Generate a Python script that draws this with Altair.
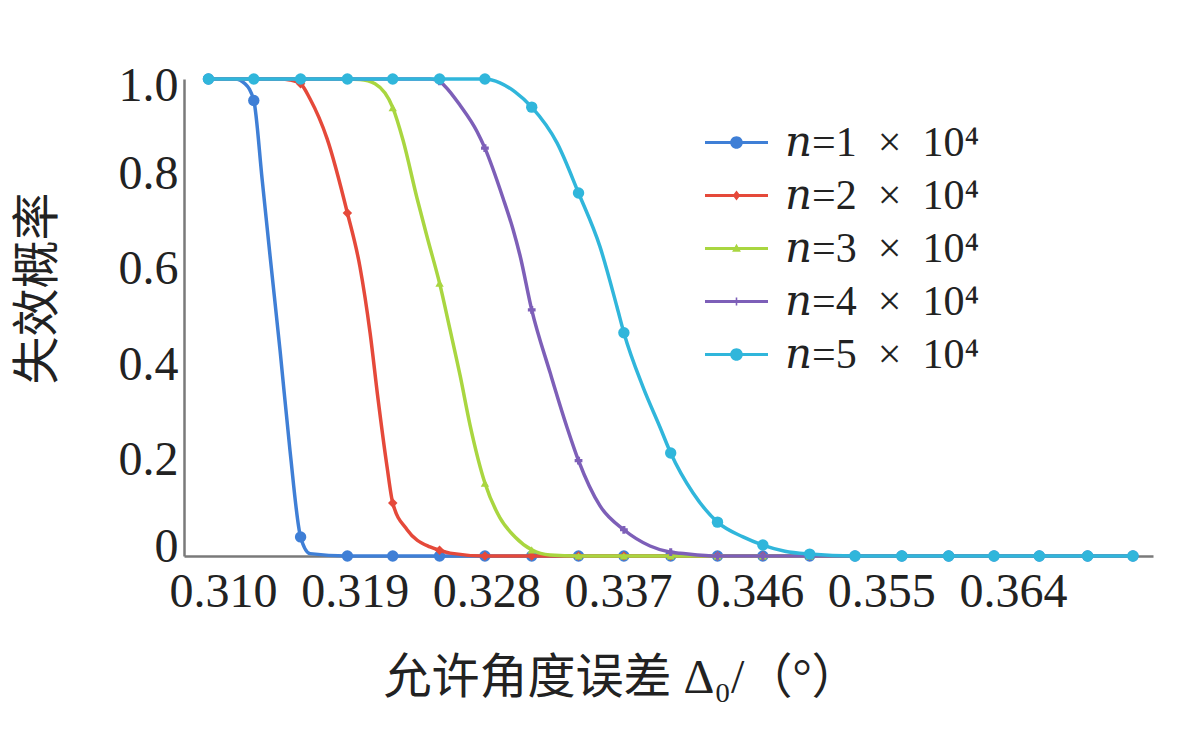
import altair as alt
import pandas as pd

# ---------------- data ----------------
series = ["𝑛=1\u2002×\u200210⁴", "𝑛=2\u2002×\u200210⁴", "𝑛=3\u2002×\u200210⁴",
          "𝑛=4\u2002×\u200210⁴", "𝑛=5\u2002×\u200210⁴"]
colors = ["#3f7fd6", "#e5493a", "#a9d640", "#7d5fb8", "#30b6db"]

x_ticks = [0.310, 0.319, 0.328, 0.337, 0.346, 0.355, 0.364]
y_ticks = [0.0, 0.2, 0.4, 0.6, 0.8, 1.0]

# marker positions (shared by all five curves)
marker_x = [0.3090, 0.3121, 0.3153, 0.3185, 0.3216, 0.3248, 0.3279, 0.3311,
            0.3343, 0.3374, 0.3406, 0.3438, 0.3469, 0.3501, 0.3532, 0.3564,
            0.3596, 0.3627, 0.3658, 0.3691, 0.3722]

marker_y1 = [1.0, 0.955, 0.040, 0.0, 0.0, 0.0, 0.0, 0.0, 0.0, 0.0, 0.0,
             0.0, 0.0, 0.0, 0.0, 0.0, 0.0, 0.0, 0.0, 0.0, 0.0]
marker_y2 = [1.0, 1.0, 0.990, 0.719, 0.111, 0.012, 0.0, 0.0, 0.0, 0.0, 0.0,
             0.0, 0.0, 0.0, 0.0, 0.0, 0.0, 0.0, 0.0, 0.0, 0.0]
marker_y3 = [1.0, 1.0, 1.0, 1.0, 0.940, 0.572, 0.153, 0.013, 0.0, 0.0, 0.0,
             0.0, 0.0, 0.0, 0.0, 0.0, 0.0, 0.0, 0.0, 0.0, 0.0]
marker_y4 = [1.0, 1.0, 1.0, 1.0, 1.0, 0.995, 0.855, 0.516, 0.200, 0.055, 0.008,
             0.0, 0.0, 0.0, 0.0, 0.0, 0.0, 0.0, 0.0, 0.0, 0.0]
marker_y5 = [1.0, 1.0, 1.0, 1.0, 1.0, 1.0, 1.0, 0.941, 0.761, 0.468, 0.216,
             0.071, 0.023, 0.004, 0.0, 0.0, 0.0, 0.0, 0.0, 0.0, 0.0]

# extra points along each curve between the markers
line_x1 = [0.31082, 0.31150, 0.31267, 0.31321, 0.31390, 0.31458, 0.31595]
line_y1 = [1.0, 0.99, 0.79, 0.63, 0.43, 0.22, 0.005]
line_x2 = [0.31390, 0.31458, 0.31595, 0.31711, 0.31936, 0.32005, 0.32059,
           0.32121, 0.32258, 0.32415, 0.32552]
line_y2 = [1.0, 0.998, 0.958, 0.875, 0.606, 0.468, 0.33, 0.187, 0.055, 0.019, 0.006]
line_x3 = [0.31936, 0.32039, 0.32230, 0.32326, 0.32401, 0.32552, 0.32620,
           0.32688, 0.32893, 0.32996, 0.33235]
line_y3 = [0.999, 0.99, 0.872, 0.750, 0.662, 0.474, 0.379, 0.275, 0.080, 0.040, 0.002]
line_x4 = [0.32415, 0.32517, 0.32620, 0.32736, 0.32914, 0.32982, 0.33030,
           0.33235, 0.33351, 0.33577, 0.33919, 0.34124]
line_y4 = [1.0, 0.985, 0.945, 0.890, 0.75, 0.685, 0.63, 0.385, 0.27, 0.105, 0.021, 0.006]
line_x5 = [0.32736, 0.32893, 0.32996, 0.33283, 0.33577, 0.33693, 0.33871,
           0.33987, 0.34213, 0.34554, 0.34841]
line_y5 = [1.0, 0.992, 0.973, 0.866, 0.648, 0.522, 0.354, 0.270, 0.132, 0.040, 0.010]

marker_ys = [marker_y1, marker_y2, marker_y3, marker_y4, marker_y5]
line_xs = [line_x1, line_x2, line_x3, line_x4, line_x5]
line_ys = [line_y1, line_y2, line_y3, line_y4, line_y5]

# ---------------- tables ----------------
pts_rows, line_rows = [], []
for s, my, lx, ly in zip(series, marker_ys, line_xs, line_ys):
    for xv, yv in zip(marker_x, my):
        pts_rows.append({"x": xv, "y": yv, "series": s})
        line_rows.append({"x": xv, "y": yv, "series": s})
    for xv, yv in zip(lx, ly):
        line_rows.append({"x": xv, "y": yv, "series": s})
pts_df = pd.DataFrame(pts_rows)
line_df = pd.DataFrame(line_rows).sort_values(["series", "x"])

# ---------------- styling ----------------
mark_shapes = ["circle", "diamond", "triangle-up", "cross", "circle"]
mark_sizes = [130, 90, 70, 60, 130]
bar = "M-1,-0.045H1V0.045H-1Z "
legend_paths = [
    bar + "M-0.2,0A0.2,0.2 0 1,1 0.2,0A0.2,0.2 0 1,1 -0.2,0Z",
    bar + "M0,-0.16L0.12,0L0,0.16L-0.12,0Z",
    bar + "M0,-0.15L0.14,0.1L-0.14,0.1Z",
    bar + "M-0.025,-0.13H0.025V0.13H-0.025Z M-0.13,-0.025H0.13V0.025H-0.13Z",
    bar + "M-0.2,0A0.2,0.2 0 1,1 0.2,0A0.2,0.2 0 1,1 -0.2,0Z",
]

color_scale = alt.Scale(domain=series, range=colors)

x_enc = alt.X(
    "x:Q",
    scale=alt.Scale(domain=[0.30733, 0.37357], nice=False, zero=False),
    axis=alt.Axis(
        values=x_ticks, format=".3f", title="允许角度误差 Δ₀/（°）",
        labelPadding=12, titleX=437, titleY=122, titleAlign="center",
        titleBaseline="middle", labelFlush=False, labelOverlap=False,
    ),
)
y_enc = alt.Y(
    "y:Q",
    scale=alt.Scale(domain=[0, 1], nice=False),
    axis=alt.Axis(
        values=y_ticks, labelExpr="datum.value == 0 ? '0' : format(datum.value, '.1f')",
        title="失效概率", labelPadding=6, titleX=-146, titleY=209,
        titleAngle=270, titleAlign="center", titleBaseline="middle",
        labelFlush=False,
        labelOffset={"condition": [{"test": "datum.value == 0", "value": -9},
                                   {"test": "datum.value == 1", "value": 7}],
                     "value": 0},
    ),
)

legend = alt.Legend(
    title=None, orient="none", legendX=521, legendY=32,
    symbolSize=3969, symbolOpacity=1, symbolStrokeWidth=0,
    labelFont="Liberation Serif, DejaVu Serif", labelFontSize=42, labelColor="#222222",
    labelOffset=17, rowPadding=-1.5, labelLimit=400,
)

layers = []
for i, s in enumerate(series):
    ln = (
        alt.Chart(line_df)
        .transform_filter(alt.datum.series == s)
        .mark_line(strokeWidth=3.5, interpolate="monotone", color=colors[i])
        .encode(x=x_enc, y=y_enc)
    )
    pt = (
        alt.Chart(pts_df)
        .transform_filter(alt.datum.series == s)
        .mark_point(filled=True, shape=mark_shapes[i], size=mark_sizes[i],
                    opacity=1, color=colors[i])
        .encode(x=x_enc, y=y_enc)
    )
    layers += [ln, pt]

proxy = (
    alt.Chart(pts_df)
    .mark_point(filled=True, opacity=0)
    .encode(
        x=x_enc, y=y_enc,
        color=alt.Color("series:N", scale=color_scale, legend=legend),
        shape=alt.Shape("series:N", scale=alt.Scale(domain=series, range=legend_paths),
                        legend=legend),
    )
)
layers.insert(0, proxy)

chart = (
    alt.layer(*layers)
    .properties(
        width=969, height=477,
        autosize=alt.AutoSizeParams(type="none"),
        padding={"left": 176, "top": 71, "right": 39, "bottom": 181},
        background="white",
    )
    .configure_view(stroke=None)
    .configure_axis(
        grid=False, ticks=False, tickSize=0,
        domainColor="#7a7a7a", domainWidth=2.5,
        labelFont="Liberation Serif", labelFontSize=48, labelColor="#222222",
        titleFont="Liberation Serif, Noto Sans CJK SC", titleFontSize=48,
        titleColor="#222222", titleFontWeight="normal",
    )
)

chart.save("out.html", embed_options={"renderer": "svg", "actions": False})
